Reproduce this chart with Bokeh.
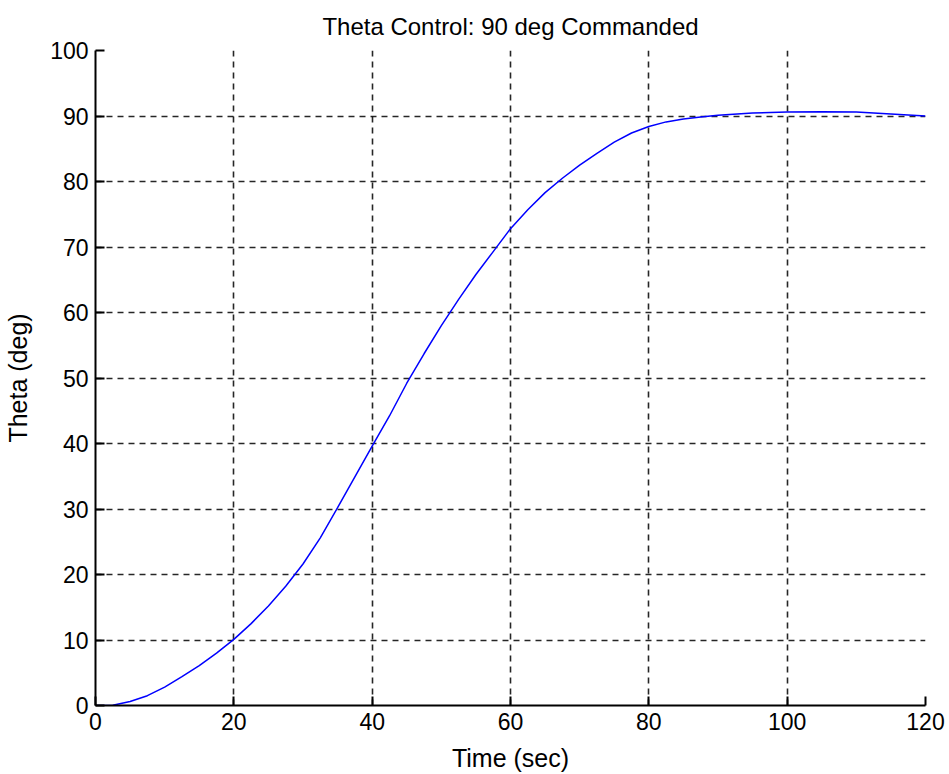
from bokeh.plotting import figure
from bokeh.models import FixedTicker, Range1d
from bokeh.embed import file_html
from bokeh.resources import INLINE

# Time (sec) and Theta (deg)
time_s = [0, 1, 2.5, 5, 7.5, 10, 12.5, 15, 17.5, 20, 22.5, 25, 27.5, 30, 32.5, 35,
          37.5, 40, 42.5, 45, 47.5, 50, 52.5, 55, 57.5, 60, 62.5, 65, 67.5, 70,
          72.5, 75, 77.5, 80, 82.5, 85, 87.5, 90, 95, 100, 105, 110, 112.5, 115, 120]
theta_deg = [0, 0, 0.05, 0.6, 1.5, 2.8, 4.4, 6.1, 8.0, 10.1, 12.5, 15.2, 18.2, 21.6, 25.6, 30.2,
             34.9, 39.6, 44.2, 49.2, 53.7, 58.0, 62.0, 65.8, 69.3, 72.8, 75.7, 78.3, 80.5, 82.5,
             84.3, 86.0, 87.4, 88.4, 89.1, 89.55, 89.85, 90.1, 90.45, 90.6, 90.65, 90.6, 90.45, 90.3, 90.0]

x_ticks = [0, 20, 40, 60, 80, 100, 120]
y_ticks = [0, 10, 20, 30, 40, 50, 60, 70, 80, 90, 100]

FONT = "Liberation Sans"

p = figure(width=945, height=774, output_backend="svg", toolbar_location=None,
           x_range=Range1d(0, 120), y_range=Range1d(0, 100),
           title="Theta Control: 90 deg Commanded",
           min_border_left=95, min_border_right=20, min_border_top=50, min_border_bottom=60)

p.line(time_s, theta_deg, line_color="#0000ff", line_width=1.5)

p.title.align = "center"
p.title.text_font = FONT
p.title.text_font_size = "24px"
p.title.text_font_style = "normal"
p.title.text_color = "black"
p.title.standoff = 21

p.outline_line_color = None
p.background_fill_color = "white"
p.border_fill_color = "white"

for ax, ticks in ((p.xaxis[0], x_ticks), (p.yaxis[0], y_ticks)):
    ax.ticker = FixedTicker(ticks=ticks)
    ax.major_tick_in = 9
    ax.major_tick_out = 0
    ax.minor_tick_in = 0
    ax.minor_tick_out = 0
    ax.axis_line_color = "black"
    ax.axis_line_width = 2
    ax.major_tick_line_color = "black"
    ax.major_tick_line_width = 2
    ax.major_label_text_font = FONT
    ax.major_label_text_font_size = "23px"
    ax.major_label_text_color = "black"
    ax.major_label_standoff = 7
    ax.axis_label_text_font = FONT
    ax.axis_label_text_font_size = "25px"
    ax.axis_label_text_font_style = "normal"
    ax.axis_label_text_color = "black"

p.xaxis.axis_label = "Time (sec)"
p.yaxis.axis_label = "Theta (deg)"
p.xaxis.axis_label_standoff = 11
p.yaxis.axis_label_standoff = 15

for g, ticks in ((p.xgrid[0], x_ticks), (p.ygrid[0], y_ticks)):
    g.ticker = FixedTicker(ticks=ticks)
    g.grid_line_color = "black"
    g.grid_line_width = 1.6
    g.grid_line_dash = "6 5"
    g.grid_line_alpha = 0.85

open("out.html", "w").write(file_html(p, INLINE))
